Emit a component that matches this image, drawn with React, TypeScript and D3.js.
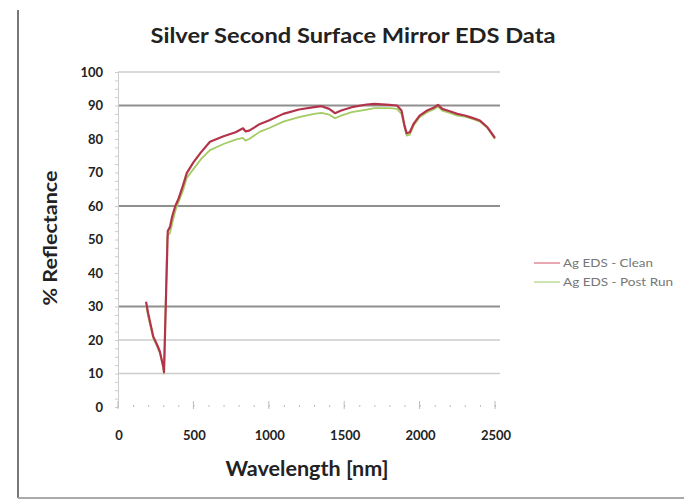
import { useEffect, useRef } from 'react';
import * as d3 from 'd3';

const wlClean = [186, 200, 234, 260, 278, 300, 305, 330, 345, 360, 380, 400, 430, 456, 500, 550, 610, 700, 780, 829, 845, 870, 942, 1000, 1096, 1200, 1300, 1350, 1400, 1439, 1480, 1550, 1650, 1700, 1800, 1850, 1880, 1900, 1914, 1935, 1960, 2000, 2050, 2100, 2122, 2150, 2200, 2250, 2300, 2350, 2400, 2450, 2500];
const clean = [31.4, 28, 21, 18.5, 16.5, 12, 10.4, 52.5, 53.8, 57, 60, 62, 66, 69.8, 73, 76, 79.2, 80.8, 82, 83.2, 82.3, 82.5, 84.5, 85.5, 87.5, 88.8, 89.5, 89.8, 89, 87.7, 88.5, 89.5, 90.3, 90.5, 90.2, 90, 88.5, 84, 81.7, 82, 84.5, 87, 88.5, 89.5, 90.2, 89, 88.3, 87.5, 87, 86.3, 85.5, 83.5, 80.3];

const wlPost = [186, 200, 234, 260, 278, 300, 305, 327, 345, 360, 380, 400, 430, 456, 500, 550, 610, 700, 780, 829, 845, 870, 942, 1000, 1096, 1200, 1300, 1350, 1400, 1439, 1480, 1550, 1650, 1700, 1800, 1850, 1880, 1900, 1914, 1935, 1960, 2000, 2050, 2100, 2122, 2150, 2200, 2250, 2300, 2350, 2400, 2450, 2500];
const postRun = [30.5, 27, 20.5, 18, 16, 12, 10, 51, 52, 55, 58.5, 61, 64.5, 68.4, 71, 74, 76.7, 78.5, 79.8, 80.3, 79.5, 80, 82.2, 83.2, 85.2, 86.5, 87.5, 87.8, 87.3, 86.2, 87, 88, 88.8, 89.2, 89.2, 89, 87.5, 83.5, 81, 81.3, 84, 86.5, 88, 89, 89.6, 88.5, 87.8, 87, 86.7, 86, 85.2, 83.3, 80];

const yTicks = [0, 10, 20, 30, 40, 50, 60, 70, 80, 90, 100];
const xTicks = [0, 500, 1000, 1500, 2000, 2500];
const lightGrid = [100, 20, 10];
const darkGrid = [90, 60, 30];
const seriesNames = ['Ag EDS - Clean', 'Ag EDS - Post Run'];
const colors = ['#b3344a', '#a3cc62'];
const legendColors = ['#e08a98', '#bedd98'];

const FONT = 'Lato, sans-serif';

export default function App() {
  const ref = useRef<SVGSVGElement>(null);

  useEffect(() => {
    if (!ref.current) return;
    const svg = d3.select(ref.current);
    svg.selectAll('*').remove();

    const x = d3.scaleLinear().domain([0, 2500]).range([118, 495]);
    const y = d3.scaleLinear().domain([0, 100]).range([407, 72]);

    // frame of the screenshot
    svg.append('line').attr('x1', 18).attr('x2', 18).attr('y1', 10).attr('y2', 498)
      .attr('stroke', '#777').attr('stroke-width', 2);
    svg.append('line').attr('x1', 18).attr('x2', 684).attr('y1', 498).attr('y2', 498)
      .attr('stroke', '#aaa').attr('stroke-width', 2);

    svg.append('text').attr('x', 353).attr('y', 43).attr('text-anchor', 'middle')
      .attr('font-family', FONT).attr('font-weight', 'bold').attr('font-size', 21)
      .attr('textLength', 405).attr('lengthAdjust', 'spacingAndGlyphs')
      .attr('fill', '#222').text('Silver Second Surface Mirror EDS Data');

    // gridlines
    svg.append('g').selectAll('line').data(lightGrid).join('line')
      .attr('x1', 118).attr('x2', 500).attr('y1', d => y(d)).attr('y2', d => y(d))
      .attr('stroke', '#cccccc').attr('stroke-width', 1.3);
    svg.append('g').selectAll('line').data(darkGrid).join('line')
      .attr('x1', 118).attr('x2', 500).attr('y1', d => y(d)).attr('y2', d => y(d))
      .attr('stroke', '#8f8f8f').attr('stroke-width', 1.8);

    // y axis with minor ticks
    const ya = svg.append('g').attr('transform', 'translate(118,0)')
      .call(d3.axisLeft(y).tickValues(d3.range(0, 101, 2.5)).tickSize(3).tickFormat(() => ''));
    ya.select('.domain').attr('stroke', '#ccc');
    ya.selectAll('.tick line').attr('stroke', '#ccc');

    svg.append('g').selectAll('text').data(yTicks).join('text')
      .attr('x', 103).attr('y', d => y(d) + 4.5).attr('text-anchor', 'end')
      .attr('font-family', FONT).attr('font-weight', 'bold').attr('font-size', 13)
      .attr('fill', '#222').text(d => d);

    // x axis dotted ticks
    const xa = svg.append('g').attr('transform', 'translate(0,407)')
      .call(d3.axisTop(x).tickValues(d3.range(0, 2501, 100)).tickSize(2).tickFormat(() => ''));
    xa.select('.domain').remove();
    xa.selectAll('.tick line').attr('stroke', '#bbb');
    svg.append('g').selectAll('line').data(xTicks).join('line')
      .attr('x1', d => x(d)).attr('x2', d => x(d)).attr('y1', 401).attr('y2', 409)
      .attr('stroke', '#bbb');

    svg.append('g').selectAll('text').data(xTicks).join('text')
      .attr('x', d => x(d) + 1).attr('y', 440).attr('text-anchor', 'middle')
      .attr('font-family', FONT).attr('font-weight', 'bold').attr('font-size', 13)
      .attr('fill', '#222').text(d => d);

    svg.append('text').attr('x', 307).attr('y', 476).attr('text-anchor', 'middle')
      .attr('font-family', FONT).attr('font-weight', 'bold').attr('font-size', 20)
      .attr('textLength', 163).attr('lengthAdjust', 'spacingAndGlyphs')
      .attr('fill', '#222').text('Wavelength [nm]');

    svg.append('text').attr('transform', 'translate(57,238) rotate(-90)').attr('text-anchor', 'middle')
      .attr('font-family', FONT).attr('font-weight', 'bold').attr('font-size', 19)
      .attr('textLength', 135).attr('lengthAdjust', 'spacingAndGlyphs')
      .attr('fill', '#222').text('% Reflectance');

    const line = d3.line<[number, number]>().x(d => x(d[0])).y(d => y(d[1]));
    const series: [number, number][][] = [
      wlClean.map((w, i) => [w, clean[i]]),
      wlPost.map((w, i) => [w, postRun[i]]),
    ];
    // draw post run first so clean sits on top
    [1, 0].forEach(i => {
      svg.append('path').datum(series[i]).attr('fill', 'none')
        .attr('stroke', colors[i]).attr('stroke-width', i === 0 ? 2.2 : 1.8)
        .attr('stroke-linejoin', 'round').attr('d', line);
    });

    const lg = svg.append('g');
    seriesNames.forEach((name, i) => {
      const ly = 263 + i * 19;
      lg.append('line').attr('x1', 534).attr('x2', 560).attr('y1', ly).attr('y2', ly)
        .attr('stroke', legendColors[i]).attr('stroke-width', 1.5);
      lg.append('text').attr('x', 563).attr('y', ly + 4)
        .attr('font-family', FONT).attr('font-size', 11)
        .attr('textLength', i === 0 ? 90 : 110).attr('lengthAdjust', 'spacingAndGlyphs')
        .attr('fill', '#777').text(name);
    });
  }, []);

  return (
    <svg ref={ref} width={684} height={503}
      style={{ position: 'absolute', left: 0, top: 0, background: '#fff' }} />
  );
}
